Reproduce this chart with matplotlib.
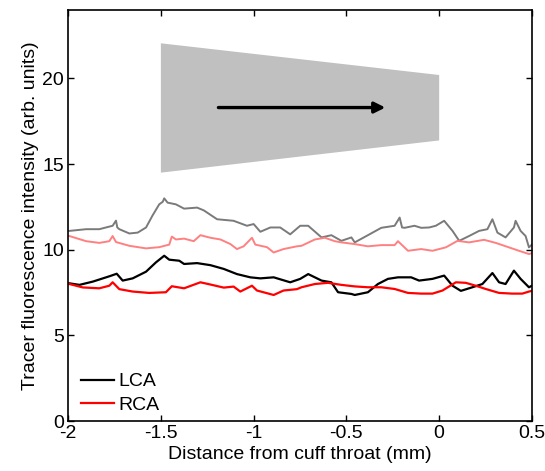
import matplotlib
matplotlib.use("Agg")
import matplotlib.pyplot as plt
from matplotlib.patches import Polygon

plt.rcParams['font.family'] = ['Liberation Sans', 'DejaVu Sans']
plt.rcParams['axes.unicode_minus'] = False

# light grey trace (upper LCA)
gris_x = [-2.0, -1.993, -1.903, -1.832, -1.76, -1.742, -1.735, -1.724, -1.67, -1.625, -1.58,
          -1.545, -1.509, -1.49, -1.482, -1.464, -1.419, -1.375, -1.305, -1.269, -1.197, -1.108,
          -1.036, -1.0, -0.964, -0.91, -0.857, -0.803, -0.749, -0.706, -0.634, -0.581, -0.527,
          -0.473, -0.455, -0.384, -0.312, -0.24, -0.213, -0.2, -0.186, -0.133, -0.097, -0.054,
          -0.018, 0.027, 0.072, 0.108, 0.161, 0.215, 0.26, 0.287, 0.314, 0.358, 0.403, 0.412,
          0.439, 0.466, 0.484, 0.5]
gris_y = [11.1, 11.1, 11.2, 11.2, 11.4, 11.7, 11.3, 11.2, 10.95, 11.0, 11.3,
          12.0, 12.65, 12.8, 13.0, 12.75, 12.65, 12.4, 12.46, 12.3, 11.78, 11.69,
          11.4, 11.5, 11.05, 11.3, 11.3, 10.9, 11.4, 11.4, 10.72, 10.85, 10.52,
          10.72, 10.43, 10.85, 11.28, 11.4, 11.88, 11.3, 11.28, 11.4, 11.28, 11.3,
          11.4, 11.69, 11.1, 10.52, 10.8, 11.1, 11.2, 11.78, 11.0, 10.72, 11.3, 11.69,
          11.1, 10.8, 10.14, 10.3]

# light red trace (upper RCA)
rosa_x = [-2.0, -1.993, -1.903, -1.832, -1.778, -1.76, -1.742, -1.67, -1.58, -1.509, -1.455,
          -1.441, -1.419, -1.375, -1.323, -1.287, -1.233, -1.179, -1.125, -1.09, -1.054, -1.009,
          -0.991, -0.928, -0.892, -0.839, -0.767, -0.742, -0.67, -0.616, -0.563, -0.527, -0.455,
          -0.384, -0.312, -0.24, -0.222, -0.168, -0.097, -0.036, 0.036, 0.099, 0.161, 0.242,
          0.305, 0.376, 0.43, 0.484, 0.5]
rosa_y = [10.8, 10.8, 10.5, 10.4, 10.5, 10.8, 10.45, 10.23, 10.08, 10.15, 10.3,
          10.77, 10.6, 10.65, 10.5, 10.85, 10.7, 10.6, 10.33, 10.04, 10.2, 10.7,
          10.3, 10.15, 9.84, 10.04, 10.2, 10.23, 10.6, 10.7, 10.5, 10.43, 10.33,
          10.2, 10.27, 10.27, 10.5, 9.94, 10.04, 9.94, 10.14, 10.52, 10.43, 10.58,
          10.4, 10.14, 9.94, 9.75, 9.8]

# LCA
lca_x = [-2.0, -1.993, -1.939, -1.867, -1.778, -1.738, -1.706, -1.652, -1.58, -1.527, -1.482,
         -1.455, -1.401, -1.375, -1.305, -1.233, -1.161, -1.09, -1.018, -0.964, -0.892, -0.803,
         -0.749, -0.715, -0.706, -0.634, -0.581, -0.545, -0.473, -0.455, -0.384, -0.33, -0.276,
         -0.222, -0.151, -0.108, -0.036, 0.027, 0.072, 0.117, 0.179, 0.233, 0.287, 0.323,
         0.358, 0.403, 0.439, 0.484, 0.5]
lca_y = [8.04, 8.04, 7.95, 8.14, 8.45, 8.6, 8.2, 8.33, 8.72, 9.26, 9.65,
         9.42, 9.36, 9.17, 9.22, 9.1, 8.88, 8.58, 8.39, 8.33, 8.39, 8.1,
         8.3, 8.52, 8.58, 8.2, 8.1, 7.52, 7.42, 7.36, 7.52, 8.0, 8.3,
         8.39, 8.39, 8.2, 8.3, 8.49, 7.9, 7.6, 7.81, 8.0, 8.64, 8.1,
         8.0, 8.78, 8.3, 7.81, 7.9]

# RCA
rca_x = [-2.0, -1.993, -1.921, -1.832, -1.778, -1.76, -1.724, -1.652, -1.563, -1.473, -1.441,
         -1.375, -1.287, -1.233, -1.161, -1.108, -1.072, -1.009, -0.982, -0.892, -0.839, -0.767,
         -0.742, -0.67, -0.599, -0.527, -0.455, -0.384, -0.312, -0.24, -0.168, -0.097, -0.036,
         0.018, 0.09, 0.143, 0.197, 0.251, 0.323, 0.394, 0.448, 0.484, 0.5]
rca_y = [8.0, 8.0, 7.8, 7.75, 7.9, 8.1, 7.7, 7.56, 7.48, 7.52, 7.87,
         7.75, 8.1, 7.97, 7.79, 7.85, 7.56, 7.9, 7.62, 7.36, 7.62, 7.7,
         7.81, 8.0, 8.07, 7.95, 7.86, 7.81, 7.81, 7.71, 7.48, 7.44, 7.44,
         7.62, 8.1, 8.07, 7.9, 7.71, 7.48, 7.44, 7.44, 7.56, 7.6]

# cuff sketch: corners of the grey trapezoid, arrow ends
cuff_x = [-1.5, 0.0, 0.0, -1.5]
cuff_y = [22.05, 20.2, 16.38, 14.5]
flecha_x = [-1.19, -0.29]
flecha_y = 18.3

fig = plt.figure(figsize=(5.45, 4.71), dpi=100)
ax = fig.add_axes([0.125, 0.106, 0.851, 0.873])

ax.add_patch(Polygon(list(zip(cuff_x, cuff_y)), closed=True, facecolor='#c0c0c0', edgecolor='none'))
ax.annotate('', xy=(flecha_x[1], flecha_y), xytext=(flecha_x[0], flecha_y),
            arrowprops=dict(arrowstyle='-|>', color='black', lw=2.4, mutation_scale=16,
                            shrinkA=0, shrinkB=0))

ax.plot(gris_x, gris_y, color='#7a7a7a', lw=1.4)
ax.plot(rosa_x, rosa_y, color='#ff8080', lw=1.4)
l1, = ax.plot(lca_x, lca_y, color='black', lw=1.6, label='LCA')
l2, = ax.plot(rca_x, rca_y, color='red', lw=1.6, label='RCA')

ax.set_xlim(-2, 0.5)
ax.set_ylim(0, 24)
ax.set_xticks([-2, -1.5, -1, -0.5, 0, 0.5])
ax.set_xticklabels(['-2', '-1.5', '-1', '-0.5', '0', '0.5'])
ax.set_yticks([0, 5, 10, 15, 20])
ax.tick_params(direction='in', top=True, right=True, labelsize=14, length=4, width=1, pad=3)
for s in ax.spines.values():
    s.set_linewidth(1.2)

ax.set_xlabel('Distance from cuff throat (mm)', fontsize=14, labelpad=3)
ax.set_ylabel('Tracer fluorescence intensity (arb. units)', fontsize=14, labelpad=2)

ax.legend(handles=[l1, l2], loc='lower left', frameon=False, fontsize=14,
          handlelength=1.7, handletextpad=0.2, labelspacing=0.3,
          bbox_to_anchor=(-0.01, -0.025))

plt.savefig('out.png', dpi=100)
